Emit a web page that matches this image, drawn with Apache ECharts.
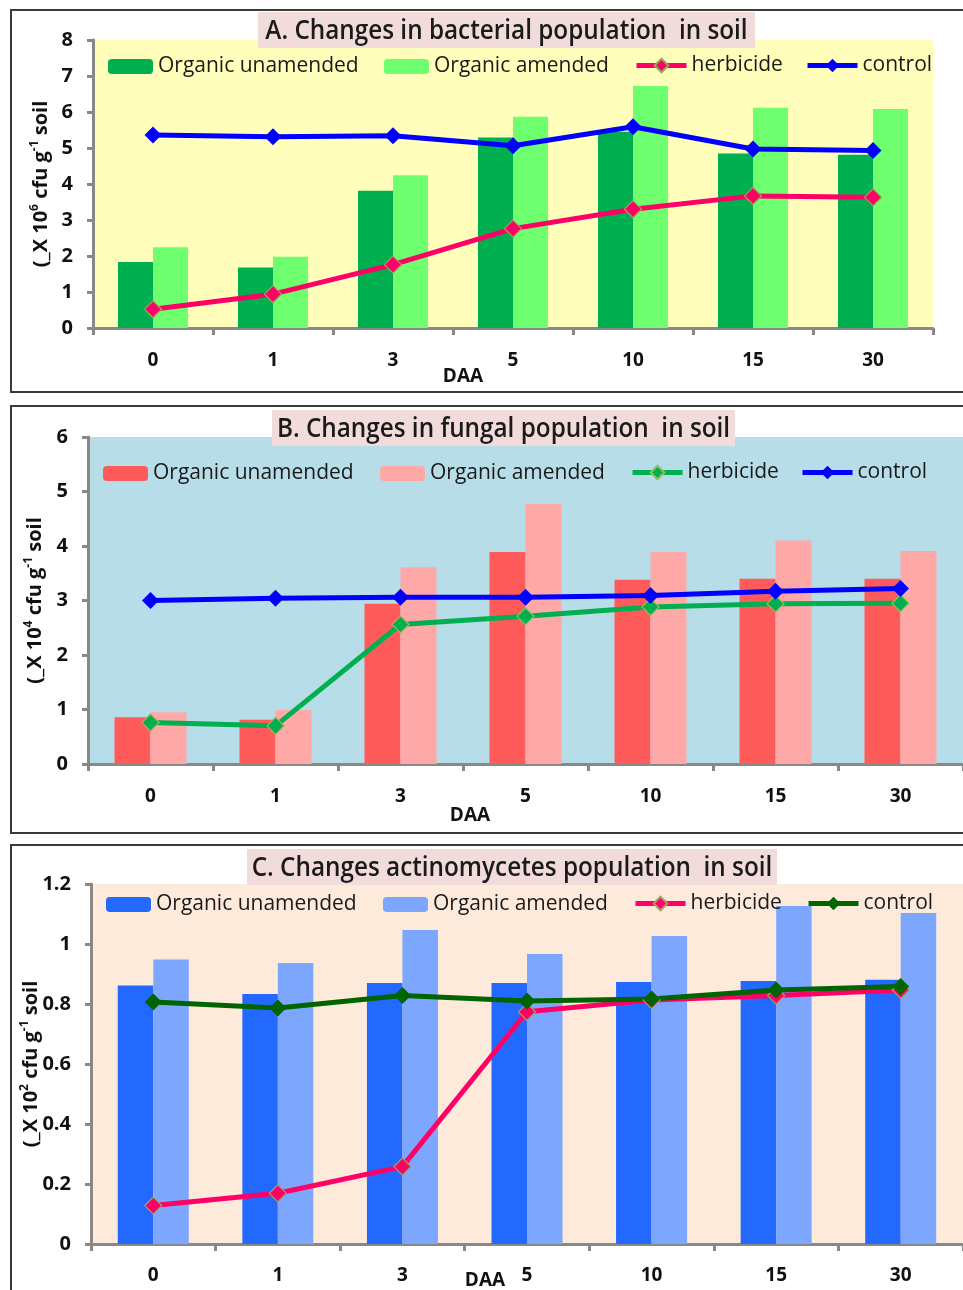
<!DOCTYPE html>
<html>
<head>
<meta charset="utf-8">
<script src="https://cdn.jsdelivr.net/npm/echarts@6/dist/echarts.min.js"></script>
<style>
html,body{margin:0;padding:0;background:#fff;}
#wrap{position:relative;width:963px;height:1290px;overflow:hidden;}
.pane{position:absolute;left:0;width:963px;}
</style>
</head>
<body>
<div id="wrap">
  <div id="chartA" class="pane" style="top:0;height:400px;"></div>
  <div id="chartB" class="pane" style="top:400px;height:440px;"></div>
  <div id="chartC" class="pane" style="top:840px;height:450px;"></div>
</div>
<script>
// ---- data ----
const categories = ['0', '1', '3', '5', '10', '15', '30'];
const seriesNames = ['Organic unamended', 'Organic amended', 'herbicide', 'control'];

// A. bacterial population (x 10^6 cfu g-1 soil)
const bactUnamended = [1.83, 1.68, 3.81, 5.29, 5.45, 4.85, 4.81];
const bactAmended   = [2.24, 1.98, 4.24, 5.87, 6.72, 6.12, 6.08];
const bactHerbicide = [0.52, 0.94, 1.76, 2.76, 3.30, 3.67, 3.63];
const bactControl   = [5.36, 5.31, 5.34, 5.06, 5.59, 4.97, 4.93];

// B. fungal population (x 10^4 cfu g-1 soil)
const fungUnamended = [0.86, 0.81, 2.94, 3.89, 3.38, 3.40, 3.40];
const fungAmended   = [0.95, 0.99, 3.61, 4.77, 3.89, 4.10, 3.91];
const fungHerbicide = [0.76, 0.70, 2.56, 2.71, 2.88, 2.94, 2.95];
const fungControl   = [3.00, 3.04, 3.06, 3.06, 3.09, 3.17, 3.22];

// C. actinomycetes population (x 10^2 cfu g-1 soil)
const actUnamended = [0.862, 0.833, 0.870, 0.870, 0.873, 0.877, 0.881];
const actAmended   = [0.948, 0.937, 1.047, 0.967, 1.027, 1.127, 1.103];
const actHerbicide = [0.128, 0.169, 0.258, 0.774, 0.813, 0.828, 0.847];
const actControl   = [0.807, 0.787, 0.828, 0.810, 0.817, 0.847, 0.858];

const titleA = 'A. Changes in bacterial population  in soil';
const titleB = 'B. Changes in fungal population  in soil';
const titleC = 'C. Changes actinomycetes population  in soil';
const xName = 'DAA';

// ---- styling ----
const NARROW = "'Open Sans', 'Noto Sans', sans-serif";
const BOLD = "'Open Sans', 'DejaVu Sans', sans-serif";
const AXIS_GRAY = '#888888';

function build(el, c) {
  const chart = echarts.init(document.getElementById(el), null, {renderer: 'canvas'});
  const isLine = (name) => name === 'herbicide' || name === 'control';
  const legendItem = (name, left) => ({
    data: [name], left: left, top: c.legendTop + (isLine(name) ? -1 : 0), padding: 0,
    itemWidth: isLine(name) ? 50 : 45, itemHeight: isLine(name) ? 17 : 15, selectedMode: false,
    lineStyle: {width: 5},
    textStyle: {fontFamily: NARROW, fontSize: 21, color: '#1a1a1a'}
  });
  const lineSeries = (name, data, color, mfill, mborder) => ({
    name: name, type: 'line', data: data, z: 5,
    symbol: 'diamond', symbolSize: 17,
    lineStyle: {color: color, width: 5},
    itemStyle: {color: mfill, borderColor: mborder || mfill, borderWidth: mborder ? 1.2 : 0},
    emphasis: {disabled: true}
  });
  chart.setOption({
    animation: false,
    grid: {left: c.grid.left, top: c.grid.top, width: c.grid.width, height: c.grid.height,
           show: true, backgroundColor: c.bg, borderWidth: 0},
    legend: [
      legendItem(seriesNames[0], c.legendLeft[0]),
      legendItem(seriesNames[1], c.legendLeft[1]),
      legendItem(seriesNames[2], c.legendLeft[2]),
      legendItem(seriesNames[3], c.legendLeft[3])
    ],
    xAxis: {
      type: 'category', data: categories,
      axisLine: {show: true, lineStyle: {color: AXIS_GRAY, width: 3}},
      axisTick: {show: true, alignWithLabel: false, length: 7, lineStyle: {color: AXIS_GRAY, width: 3}},
      axisLabel: {margin: c.xLabelMargin, fontFamily: BOLD, fontWeight: 'bold', fontSize: 19, color: '#111'},
      splitLine: {show: false}
    },
    yAxis: {
      type: 'value', min: 0, max: c.yMax, interval: c.yInterval,
      name: c.yName, nameLocation: 'middle', nameGap: c.yNameGap, nameRotate: 90,
      nameMoveOverlap: false,
      nameTextStyle: {fontFamily: BOLD, fontWeight: 'bold', fontSize: 20, color: '#111',
        rich: {sup: {fontFamily: BOLD, fontWeight: 'bold', fontSize: 12, color: '#111', verticalAlign: 'top', lineHeight: 24},
               n: {fontFamily: BOLD, fontWeight: 'bold', fontSize: 20, color: '#111', lineHeight: 24}}},
      axisLine: {show: true, lineStyle: {color: AXIS_GRAY, width: 3}},
      axisTick: {show: true, length: 6, lineStyle: {color: AXIS_GRAY, width: 3}},
      axisLabel: {margin: 20, fontFamily: BOLD, fontWeight: 'bold', fontSize: 20, color: '#111'},
      splitLine: {show: false}
    },
    graphic: [
      {type: 'rect', z: 20, silent: true, shape: {x: 11, y: c.frameTop, width: 1000, height: c.frameH},
       style: {fill: 'none', stroke: '#3a3a3a', lineWidth: 2}},
      {type: 'rect', z: 21, silent: true, shape: c.titleBox, style: {fill: '#F2DCDB'}},
      {type: 'text', z: 22, silent: true, x: c.titleBox.x + c.titleBox.width / 2, y: c.titleBox.y + c.titleBox.height / 2 + 1,
       scaleX: 0.9,
       style: {text: c.title, fontFamily: NARROW, fontSize: 27, fontWeight: 600, fill: '#1a1a1a', align: 'center', verticalAlign: 'middle',
               textAlign: 'center', textVerticalAlign: 'middle'}},
      {type: 'text', z: 22, silent: true, x: c.daa[0], y: c.daa[1],
       style: {text: xName, fontFamily: BOLD, fontWeight: 'bold', fontSize: 19, fill: '#111', align: 'center', verticalAlign: 'middle',
               textAlign: 'center', textVerticalAlign: 'middle'}}
    ],
    series: [
      {name: seriesNames[0], type: 'bar', data: c.data[0], barWidth: c.barWidth, barGap: '0%',
       itemStyle: {color: c.colors[0]}, emphasis: {disabled: true}},
      {name: seriesNames[1], type: 'bar', data: c.data[1], barWidth: c.barWidth, barGap: '0%',
       itemStyle: {color: c.colors[1]}, emphasis: {disabled: true}},
      lineSeries(seriesNames[2], c.data[2], c.colors[2], c.markerFill[2], c.markerBorder[2]),
      lineSeries(seriesNames[3], c.data[3], c.colors[3], c.markerFill[3], c.markerBorder[3])
    ]
  });
}

build('chartA', {
  title: titleA, titleBox: {x: 258, y: 12, width: 497, height: 36},
  frameTop: 10, frameH: 382,
  grid: {left: 93, top: 40, width: 840, height: 288}, bg: '#FFFFBB',
  yMax: 8, yInterval: 1, yNameGap: 40,
  yName: '{n|(_X 10}{sup|6}{n| cfu g}{sup|-1}{n| soil}',
  xLabelMargin: 23, daa: [463, 377],
  legendTop: 56, legendLeft: [108, 384, 634, 805],
  barWidth: 35,
  data: [bactUnamended, bactAmended, bactHerbicide, bactControl],
  colors: ['#00B050', '#6EFF6E', '#FF0066', '#0000FF'],
  markerFill: [null, null, '#FF0066', '#0000FF'],
  markerBorder: [null, null, '#A0A060', null]
});

build('chartB', {
  title: titleB, titleBox: {x: 272, y: 10, width: 463, height: 36},
  frameTop: 6, frameH: 427,
  grid: {left: 88, top: 37, width: 886, height: 327}, bg: '#B7DDE8',
  yMax: 6, yInterval: 1, yNameGap: 41,
  yName: '{n|(_X 10}{sup|4}{n| cfu g}{sup|-1}{n| soil}',
  xLabelMargin: 23, daa: [470, 416],
  legendTop: 63, legendLeft: [103, 380, 630, 800],
  barWidth: 36,
  data: [fungUnamended, fungAmended, fungHerbicide, fungControl],
  colors: ['#FF5B5B', '#FFA8A8', '#00B050', '#0000FF'],
  markerFill: [null, null, '#00B050', '#0000FF'],
  markerBorder: [null, null, '#9BBB59', null]
});

build('chartC', {
  title: titleC, titleBox: {x: 247, y: 9, width: 530, height: 36},
  frameTop: 5, frameH: 600,
  grid: {left: 91, top: 44, width: 872, height: 360}, bg: '#FDEADA',
  yMax: 1.2, yInterval: 0.2, yNameGap: 48,
  yName: '{n|(_X 10}{sup|2}{n| cfu g}{sup|-1}{n| soil}',
  xLabelMargin: 22, daa: [485, 441],
  legendTop: 54, legendLeft: [106, 383, 633, 806],
  barWidth: 35.5,
  data: [actUnamended, actAmended, actHerbicide, actControl],
  colors: ['#2469FF', '#7DA7FF', '#FF0066', '#006400'],
  markerFill: [null, null, '#FF0066', '#006400'],
  markerBorder: [null, null, '#A0A060', null]
});
</script>
</body>
</html>
